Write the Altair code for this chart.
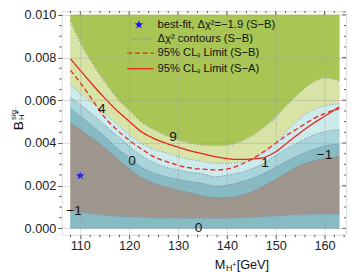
import altair as alt
import pandas as pd

FONT = "Liberation Sans"

# ---------------- data ----------------
mass = [108, 110, 112.5, 115, 117.5, 120, 122.5, 125, 127.5, 130, 132.5, 135,
        137.5, 140, 142.5, 145, 147.5, 150, 152.5, 155, 157.5, 160, 163]
# contour boundaries of Delta chi^2 (S-B), in units of 1e-3
c9 = [9.69, 8.70, 7.71, 6.86, 6.10, 5.52, 4.98, 4.62, 4.35, 4.13, 3.99, 3.90,
      3.88, 3.90, 4.04, 4.31, 4.71, 5.20, 5.83, 6.37, 6.82, 7.04, 6.91]
c4 = [6.73, 6.32, 5.87, 5.38, 4.89, 4.40, 3.99, 3.72, 3.54, 3.36, 3.23, 3.14,
      3.05, 3.05, 3.09, 3.23, 3.54, 3.99, 4.62, 5.16, 5.52, 5.74, 5.83]
c1 = [6.14, 5.79, 5.34, 4.84, 4.35, 3.86, 3.41, 3.09, 2.87, 2.74, 2.62, 2.56,
      2.42, 2.49, 2.60, 2.78, 3.05, 3.41, 3.77, 4.08, 4.35, 4.53, 4.62]
c0 = [5.61, 5.25, 4.80, 4.31, 3.77, 3.32, 2.87, 2.60, 2.42, 2.29, 2.20, 2.11,
      1.97, 2.02, 2.15, 2.33, 2.56, 2.87, 3.18, 3.45, 3.68, 3.86, 3.95]
cm1_up = [4.93, 4.62, 4.22, 3.77, 3.27, 2.78, 2.38, 2.11, 1.93, 1.79, 1.66, 1.53,
          1.44, 1.44, 1.53, 1.70, 1.97, 2.29, 2.65, 2.96, 3.14, 3.27, 3.36]
cm1_lo = [0.81, 0.74, 0.67, 0.61, 0.56, 0.54, 0.52, 0.49, 0.49, 0.47, 0.47, 0.47,
          0.47, 0.47, 0.49, 0.52, 0.54, 0.58, 0.61, 0.63, 0.65, 0.67, 0.67]
# 95% CLs limits, units of 1e-3
lim_sa = [7.94, 7.40, 6.73, 6.10, 5.52, 5.02, 4.53, 4.22, 3.99, 3.81, 3.63, 3.50,
          3.36, 3.27, 3.23, 3.25, 3.32, 3.59, 4.04, 4.48, 4.89, 5.25, 5.70]
lim_sb = [7.40, 6.82, 6.01, 5.20, 4.62, 4.13, 3.72, 3.36, 3.14, 2.96, 2.83, 2.78,
          2.74, 2.78, 2.96, 3.23, 3.59, 3.99, 4.40, 4.75, 5.11, 5.38, 5.61]
best_x = [110.0]
best_y = [2.47]
lab_text = ["4", "9", "0", "1", "\u22121", "\u22121", "0"]
lab_x = [114.4, 129.0, 120.6, 147.8, 160.0, 108.7, 134.2]
lab_y = [5.61, 4.30, 3.14, 3.05, 3.45, 0.81, 0.02]

x_major = [110, 120, 130, 140, 150, 160]
y_major = [0.000, 0.002, 0.004, 0.006, 0.008, 0.010]
x_minor = [108, 112, 114, 116, 118, 122, 124, 126, 128, 132, 134, 136, 138,
           142, 144, 146, 148, 152, 154, 156, 158, 162, 164]
y_minor = [0.0005, 0.001, 0.0015, 0.0025, 0.003, 0.0035, 0.0045, 0.005, 0.0055,
           0.0065, 0.007, 0.0075, 0.0085, 0.009, 0.0095]

legend_labels = ["best-fit, \u0394\u03c7\u00b2=\u22121.9 (S\u2212B)",
                 "\u0394\u03c7\u00b2 contours (S\u2212B)",
                 "95% CL\u209b Limit (S\u2212B)",
                 "95% CL\u209b Limit (S\u2212A)"]

# ---------------- tables ----------------
n = len(mass)
top = [10.0] * n
bottom = [0.0] * n
band_defs = [("b9", c9, top), ("b4", c4, c9), ("b1", c1, c4), ("b0", c0, c1),
             ("bm", cm1_up, c0), ("bl", cm1_lo, cm1_up), ("bz", bottom, cm1_lo)]
band_colors = ["#a9c655", "#d8e4a6", "#cdebeb", "#a8d4da", "#86bbc4", "#9e968c", "#86bbc4"]
rows = []
for name, lo, hi in band_defs:
    for m, a, b in zip(mass, lo, hi):
        rows.append({"mass": m, "lo": a * 1e-3, "hi": b * 1e-3, "band": name})
df_bands = pd.DataFrame(rows)

crow = []
for name, vals in [("c9", c9), ("c4", c4), ("c1", c1), ("c0", c0), ("cm1u", cm1_up), ("cm1l", cm1_lo)]:
    for m, v in zip(mass, vals):
        crow.append({"mass": m, "lo": v * 1e-3, "c": name})
df_cont = pd.DataFrame(crow)

df_sa = pd.DataFrame({"mass": mass, "lo": [v * 1e-3 for v in lim_sa]})
df_sb = pd.DataFrame({"mass": mass, "lo": [v * 1e-3 for v in lim_sb]})
df_best = pd.DataFrame({"mass": best_x, "lo": [v * 1e-3 for v in best_y]})
df_lab = pd.DataFrame({"mass": lab_x, "lo": [v * 1e-3 for v in lab_y], "t": lab_text})

W, H = 291, 229
xscale = alt.Scale(domain=[106.2, 164.4], nice=False, zero=False)
yscale = alt.Scale(domain=[-0.0003, 0.01018], nice=False, zero=False)

xaxis = alt.Axis(values=x_major, format="d", title=None, labelFont=FONT, labelFontSize=13,
                 labelColor="#222", tickSize=4, tickColor="#555", domain=False,
                 grid=True, gridColor="#9a9a9a", gridOpacity=0.35, labelPadding=1,
                 zindex=1, labelFlush=False)
yaxis = alt.Axis(values=y_major, format=".3f", title=None, labelFont=FONT, labelFontSize=13,
                 labelColor="#222", tickSize=4, tickColor="#555", domain=False,
                 grid=True, gridColor="#9a9a9a", gridOpacity=0.35, labelPadding=2,
                 zindex=1, labelFlush=False)

X = alt.X("mass:Q", scale=xscale, axis=xaxis)
Y = alt.Y("lo:Q", scale=yscale, axis=yaxis)

cscale = alt.Scale(domain=[b[0] for b in band_defs], range=band_colors)
bands = alt.Chart(df_bands).mark_area(interpolate="monotone", strokeWidth=0.6).encode(
    x=X,
    y=alt.Y("lo:Q", scale=yscale, axis=yaxis, stack=None),
    y2="hi:Q",
    color=alt.Color("band:N", scale=cscale, legend=None),
    stroke=alt.Stroke("band:N", scale=cscale, legend=None),
    detail="band:N",
)

contours = alt.Chart(df_cont).mark_line(interpolate="monotone", strokeDash=[1, 2],
                                        strokeWidth=1, color="#6c70a4", opacity=0.85).encode(
    x=X, y=Y, detail="c:N")

line_sa = alt.Chart(df_sa).mark_line(interpolate="monotone", color="#e8221c",
                                     strokeWidth=1.3).encode(x=X, y=Y)
line_sb = alt.Chart(df_sb).mark_line(interpolate="monotone", color="#e8221c",
                                     strokeWidth=1.3, strokeDash=[5, 3]).encode(x=X, y=Y)

labels = alt.Chart(df_lab).mark_text(font=FONT, fontSize=14, color="#111").encode(
    x=X, y=Y, text="t:N")

STAR = ("M0,-1L0.235,-0.324L0.951,-0.309L0.38,0.124L0.588,0.809L0,0.4"
        "L-0.588,0.809L-0.38,0.124L-0.951,-0.309L-0.235,-0.324Z")
star = alt.Chart(df_best).mark_point(shape=STAR, filled=True, size=85, color="#1414ff",
                                     opacity=1).encode(x=X, y=Y)

one = pd.DataFrame({"k": [0]})
leg_layers = []
leg_layers.append(alt.Chart(one).mark_point(shape=STAR, filled=True, size=85, color="#1414ff",
                                            opacity=1).encode(x=alt.value(79), y=alt.value(14)))
leg_layers.append(alt.Chart(one).mark_rule(strokeDash=[1, 2], strokeWidth=1.2, color="#7b7fb0").encode(
    x=alt.value(72), x2=alt.value(92), y=alt.value(28.5)))
leg_layers.append(alt.Chart(one).mark_rule(strokeDash=[5, 3], strokeWidth=1.3, color="#e8221c").encode(
    x=alt.value(67), x2=alt.value(94), y=alt.value(43)))
leg_layers.append(alt.Chart(one).mark_rule(strokeWidth=1.3, color="#e8221c").encode(
    x=alt.value(67), x2=alt.value(94), y=alt.value(59)))
for txt_, yy in zip(legend_labels, [14, 28.5, 43, 59]):
    leg_layers.append(alt.Chart(pd.DataFrame({"t": [txt_]})).mark_text(
        font=FONT, fontSize=11.5, align="left", baseline="middle", color="#111").encode(
        text="t:N", x=alt.value(98), y=alt.value(yy)))

# frame ticks
dfx_min = pd.DataFrame({"mass": x_minor})
dfx_maj = pd.DataFrame({"mass": x_major})
dfy_min = pd.DataFrame({"lo": y_minor})
dfy_maj = pd.DataFrame({"lo": y_major})
TC = "#555"
ticks = [
    alt.Chart(dfx_min).mark_rule(color=TC).encode(x=X, y=alt.value(H), y2=alt.value(H + 2.5)),
    alt.Chart(dfx_min).mark_rule(color=TC).encode(x=X, y=alt.value(0), y2=alt.value(2)),
    alt.Chart(dfx_maj).mark_rule(color=TC).encode(x=X, y=alt.value(0), y2=alt.value(4)),
    alt.Chart(dfy_min).mark_rule(color=TC).encode(y=Y, x=alt.value(-2.5), x2=alt.value(0)),
    alt.Chart(dfy_min).mark_rule(color=TC).encode(y=Y, x=alt.value(W - 2), x2=alt.value(W)),
    alt.Chart(dfy_maj).mark_rule(color=TC).encode(y=Y, x=alt.value(W - 4), x2=alt.value(W)),
]

# axis titles
def txt(s, x, y, size, angle=0, baseline="alphabetic"):
    return alt.Chart(pd.DataFrame({"t": [s]})).mark_text(
        font=FONT, fontSize=size, align="left", baseline=baseline, angle=angle, color="#111").encode(
        text="t:N", x=alt.value(x), y=alt.value(y))

titles = [
    txt("M", 156.5, 263.5, 13),
    txt("H", 168.2, 266.5, 9),
    txt("+", 174.6, 262.0, 7),
    txt("[GeV]", 179.0, 263.5, 13),
    txt("B", -40, 122, 14, angle=270),
    txt("sig.", -47, 111.5, 8, angle=270),
    txt("H", -38.5, 111.5, 8, angle=270),
    txt("+", -42.5, 105.5, 6.5, angle=270),
]

chart = alt.layer(bands, contours, line_sb, line_sa, labels, star, *leg_layers, *ticks, *titles).properties(
    width=W, height=H,
    autosize=alt.AutoSizeParams(type="none"),
    padding={"left": 55, "top": 0, "right": 3, "bottom": 38},
).configure_view(stroke="#555", strokeWidth=1).configure(background="white")

chart.save("out.html", embed_options={"renderer": "svg", "actions": False})
